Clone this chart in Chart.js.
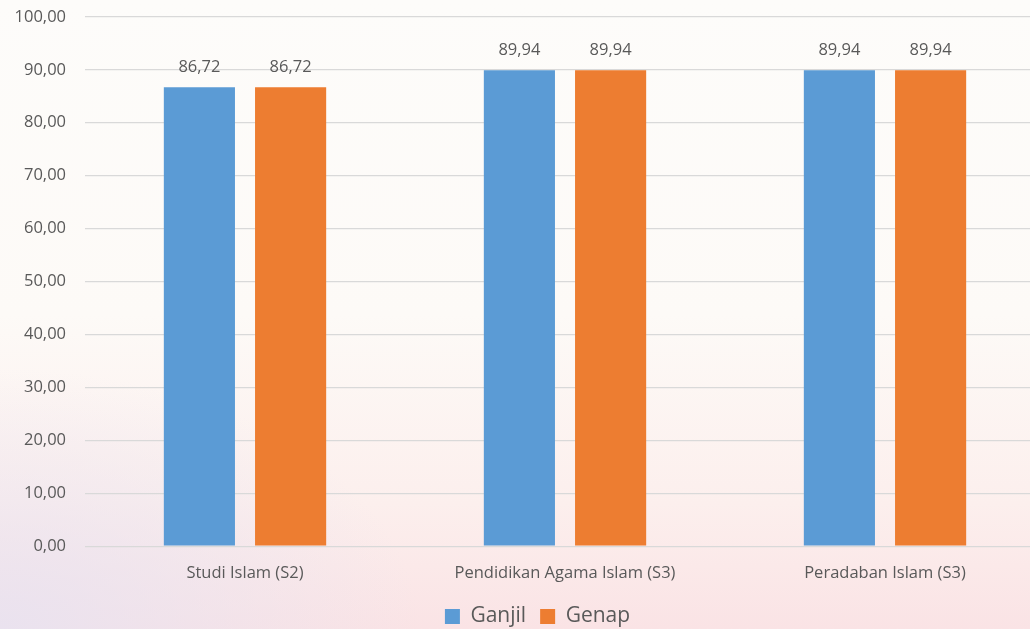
<!DOCTYPE html>
<html>
<head>
<meta charset="utf-8">
<script src="https://cdn.jsdelivr.net/npm/chart.js@4"></script>
<style>
  html, body { margin: 0; padding: 0; width: 1030px; height: 629px; overflow: hidden; }
  body {
    background:
      radial-gradient(ellipse 420px 260px at 0% 100%, rgba(232,226,240,0.9), rgba(232,226,240,0) 100%),
      linear-gradient(to bottom, #fdfcfa 0%, #fdfaf7 50%, #fcefed 80%, #fae3e5 100%);
  }
  #wrap { position: relative; top: -12px; width: 1045px; height: 649px; }
</style>
</head>
<body>
<div id="wrap"><canvas id="chart"></canvas></div>
<script>
// Chart values
const categories = ['Studi Islam (S2)', 'Pendidikan Agama Islam (S3)', 'Peradaban Islam (S3)'];
const ganjilValues = [86.72, 89.94, 89.94];
const genapValues = [86.72, 89.94, 89.94];
const seriesNames = ['Ganjil', 'Genap'];

const colors = {
    blue: '#5b9bd5',
    orange: '#ed7d31',
    text: '#595959',
    grid: '#d9d9d9'
};

const fontFamily = "'Open Sans'";
const fmt = v => v.toFixed(2).replace('.', ',');

// draws the value above each bar
const valueLabels = {
    id: 'valueLabels',
    afterDatasetsDraw(chart) {
        const ctx = chart.ctx;
        ctx.save();
        ctx.font = '16.5px ' + fontFamily;
        ctx.fillStyle = colors.text;
        ctx.textAlign = 'center';
        ctx.textBaseline = 'middle';
        chart.data.datasets.forEach((ds, i) => {
            chart.getDatasetMeta(i).data.forEach((bar, j) => {
                ctx.fillText(fmt(ds.data[j]), bar.x, bar.y - 20);
            });
        });
        ctx.restore();
    }
};

// the legend in the reference sits a bit right of the canvas centre
const legendShift = {
    id: 'legendShift',
    afterLayout(chart) {
        if (chart.legend) {
            chart.legend.left += 15;
            chart.legend.right += 15;
        }
    }
};

new Chart(document.getElementById('chart'), {
    type: 'bar',
    data: {
        labels: categories,
        datasets: [{
            label: seriesNames[0],
            data: ganjilValues,
            backgroundColor: colors.blue,
            categoryPercentage: 0.57,
            barPercentage: 0.78
        }, {
            label: seriesNames[1],
            data: genapValues,
            backgroundColor: colors.orange,
            categoryPercentage: 0.57,
            barPercentage: 0.78
        }]
    },
    options: {
        responsive: true,
        maintainAspectRatio: false,
        animation: false,
        layout: {
            padding: { top: 8, right: 0, left: 0, bottom: 0 }
        },
        plugins: {
            legend: {
                position: 'bottom',
                labels: {
                    font: { family: fontFamily, size: 21 },
                    color: colors.text,
                    boxWidth: 15,
                    boxHeight: 15,
                    padding: 14
                }
            },
            tooltip: { enabled: false }
        },
        scales: {
            x: {
                grid: { display: false },
                border: { display: false },
                ticks: {
                    font: { family: fontFamily, size: 16.5 },
                    color: colors.text,
                    padding: 9
                }
            },
            y: {
                min: 0,
                max: 100,
                afterFit(scale) { scale.width = 85; },
                ticks: {
                    stepSize: 10,
                    font: { family: fontFamily, size: 16.5 },
                    color: colors.text,
                    padding: 19,
                    callback: v => fmt(v)
                },
                grid: {
                    color: colors.grid,
                    lineWidth: 1.3,
                    drawTicks: false
                },
                border: { display: false }
            }
        }
    },
    plugins: [valueLabels, legendShift]
});
</script>
</body>
</html>
